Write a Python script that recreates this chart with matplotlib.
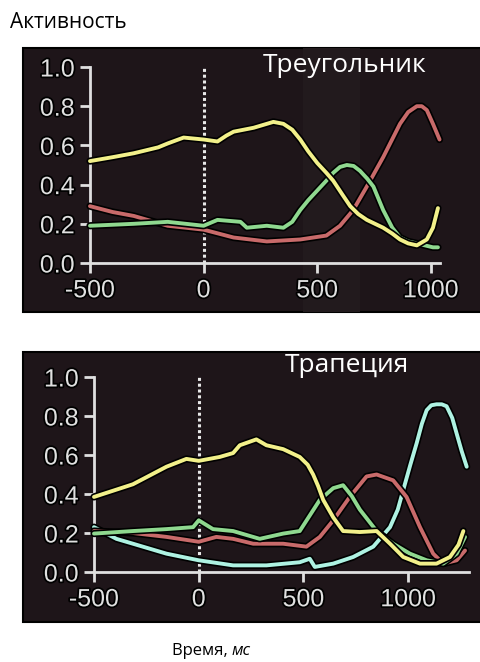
import matplotlib
matplotlib.use("Agg")
import matplotlib.pyplot as plt
import matplotlib.patheffects as pe
from matplotlib.patches import Rectangle

# ---- data ----
xticks = [-500, 0, 500, 1000]
yticks = [0.0, 0.2, 0.4, 0.6, 0.8, 1.0]
ytick_labels = ["0.0", "0.2", "0.4", "0.6", "0.8", "1.0"]

# top panel: "Треугольник"
t_yellow_x = [-500, -400, -307, -200, -158, -88, 0, 61, 100, 132, 220, 307, 351, 390, 425, 460, 500, 540, 570, 610, 645, 680, 718, 790, 830, 864, 900, 938, 982, 1009, 1031]
t_yellow_y = [0.52, 0.54, 0.56, 0.59, 0.61, 0.64, 0.63, 0.62, 0.65, 0.67, 0.69, 0.72, 0.71, 0.68, 0.63, 0.57, 0.51, 0.46, 0.42, 0.35, 0.29, 0.25, 0.22, 0.18, 0.15, 0.12, 0.10, 0.09, 0.12, 0.18, 0.28]
t_red_x = [-500, -400, -307, -158, 0, 132, 278, 425, 540, 600, 658, 718, 790, 864, 900, 938, 960, 982, 1009, 1038]
t_red_y = [0.29, 0.26, 0.24, 0.19, 0.17, 0.13, 0.11, 0.12, 0.14, 0.19, 0.27, 0.39, 0.54, 0.71, 0.77, 0.80, 0.80, 0.78, 0.71, 0.63]
t_green_x = [-500, -307, -158, 0, 61, 162, 190, 278, 351, 390, 425, 460, 500, 540, 570, 600, 630, 660, 688, 720, 747, 790, 830, 864, 900, 938, 1009, 1031]
t_green_y = [0.19, 0.20, 0.21, 0.19, 0.22, 0.21, 0.18, 0.19, 0.18, 0.21, 0.27, 0.32, 0.37, 0.42, 0.46, 0.49, 0.50, 0.495, 0.47, 0.43, 0.39, 0.27, 0.18, 0.13, 0.11, 0.10, 0.08, 0.08]

# bottom panel: "Трапеция"
b_yellow_x = [-500, -314, -154, -59, 0, 100, 164, 196, 275, 323, 403, 482, 520, 546, 570, 594, 642, 689, 769, 849, 913, 976, 1056, 1135, 1199, 1240, 1263]
b_yellow_y = [0.385, 0.45, 0.54, 0.58, 0.57, 0.59, 0.61, 0.65, 0.68, 0.65, 0.63, 0.59, 0.55, 0.50, 0.44, 0.37, 0.28, 0.21, 0.205, 0.21, 0.145, 0.077, 0.043, 0.043, 0.077, 0.14, 0.21]
b_red_x = [-500, -314, -154, 0, 84, 164, 260, 403, 514, 578, 642, 721, 801, 849, 928, 992, 1056, 1119, 1167, 1231, 1271]
b_red_y = [0.21, 0.20, 0.18, 0.155, 0.18, 0.17, 0.145, 0.145, 0.13, 0.18, 0.265, 0.385, 0.49, 0.50, 0.47, 0.385, 0.23, 0.094, 0.043, 0.06, 0.11]
b_green_x = [-500, -314, -154, -27, 0, 68, 164, 291, 403, 482, 530, 578, 642, 689, 730, 769, 849, 928, 1008, 1088, 1167, 1231, 1271]
b_green_y = [0.197, 0.21, 0.22, 0.23, 0.265, 0.22, 0.21, 0.17, 0.197, 0.21, 0.29, 0.37, 0.43, 0.445, 0.39, 0.32, 0.21, 0.145, 0.094, 0.06, 0.043, 0.094, 0.18]
b_cyan_x = [-500, -393, -314, -154, 0, 164, 323, 482, 530, 554, 642, 737, 833, 913, 950, 976, 1010, 1040, 1065, 1088, 1110, 1135, 1160, 1183, 1210, 1231, 1255, 1279]
b_cyan_y = [0.23, 0.17, 0.145, 0.094, 0.06, 0.034, 0.034, 0.05, 0.068, 0.026, 0.043, 0.077, 0.13, 0.23, 0.32, 0.42, 0.55, 0.66, 0.76, 0.83, 0.855, 0.86, 0.86, 0.85, 0.79, 0.71, 0.62, 0.54]

YELLOW = "#f2f08a"
RED = "#c86a6a"
GREEN = "#8fd88f"
CYAN = "#aef2e2"
BG = "#1e1519"
FG = "#e0e0e0"

W, H = 480, 662
fig = plt.figure(figsize=(W / 100, H / 100), dpi=100)
fig.patch.set_facecolor("white")

def px_rect(x0, y0, x1, y1):
    return (x0 / W, 1 - y1 / H, (x1 - x0) / W, (y1 - y0) / H)

# dark panel backgrounds
for (x0, y0, x1, y1) in [(23, 48, 482, 312), (23, 352, 482, 622)]:
    r = px_rect(x0, y0, x1, y1)
    fig.patches.append(Rectangle((r[0], r[1]), r[2], r[3], transform=fig.transFigure,
                                 facecolor=BG, edgecolor="black", lw=1.5, zorder=0))
# subtle lighter band in the top panel
r = px_rect(303, 48, 360, 312)
fig.patches.append(Rectangle((r[0], r[1]), r[2], r[3], transform=fig.transFigure,
                             facecolor="#221a1d", edgecolor="none", zorder=0.5))

stroke = [pe.Stroke(linewidth=5.2, foreground="black"), pe.Normal()]
halo = [pe.withStroke(linewidth=2.5, foreground="black")]

def setup(ax, xmax):
    ax.set_zorder(2)
    ax.set_facecolor("none")
    ax.set_xlim(-500, xmax)
    ax.set_ylim(0, 1.0)
    for s in ["top", "right"]:
        ax.spines[s].set_visible(False)
    for s in ["left", "bottom"]:
        ax.spines[s].set_color(FG)
        ax.spines[s].set_linewidth(2)
    ax.set_xticks(xticks)
    ax.set_xticklabels([str(t) for t in xticks])
    ax.set_yticks(yticks)
    ax.set_yticklabels(ytick_labels)
    ax.tick_params(colors=FG, width=2, length=7, labelsize=18, pad=4)
    for lab in ax.get_xticklabels() + ax.get_yticklabels():
        lab.set_fontfamily("Liberation Sans")
        lab.set_color(FG)
        lab.set_path_effects(halo)
    ax.plot([0, 0], [0, 1.0], color="#e8e8e8", lw=2.2, ls=(0, (1.0, 0.9)), zorder=1)

def line(ax, x, y, c):
    ax.plot(x, y, color=c, lw=2.8, solid_capstyle="round", solid_joinstyle="round",
            path_effects=stroke, clip_on=False, zorder=3)

ax1 = fig.add_axes(px_rect(90, 67, 440, 263))
setup(ax1, 1040)
line(ax1, t_red_x, t_red_y, RED)
line(ax1, t_green_x, t_green_y, GREEN)
line(ax1, t_yellow_x, t_yellow_y, YELLOW)

ax2 = fig.add_axes(px_rect(94, 377, 469, 572))
setup(ax2, 1290)
line(ax2, b_cyan_x, b_cyan_y, CYAN)
line(ax2, b_red_x, b_red_y, RED)
line(ax2, b_green_x, b_green_y, GREEN)
line(ax2, b_yellow_x, b_yellow_y, YELLOW)

fig.text(345 / W, 1 - 65 / H, "Треугольник", color="white", fontsize=19, family="Open Sans",
         ha="center", va="center", zorder=5)
fig.text(347 / W, 1 - 366 / H, "Трапеция", color="white", fontsize=19, family="Open Sans",
         ha="center", va="center", zorder=5)
fig.text(10 / W, 1 - 22 / H, "Активность", color="black", fontsize=15, family="Open Sans",
         ha="left", va="center")
fig.text(232 / W, 1 - 651 / H, "Время, ", color="black", fontsize=12, family="Open Sans",
         ha="right", va="center")
fig.text(232 / W, 1 - 651 / H, "мс", color="black", fontsize=12, family="Open Sans",
         style="italic", ha="left", va="center")

fig.savefig("out.png", dpi=100, facecolor="white")
